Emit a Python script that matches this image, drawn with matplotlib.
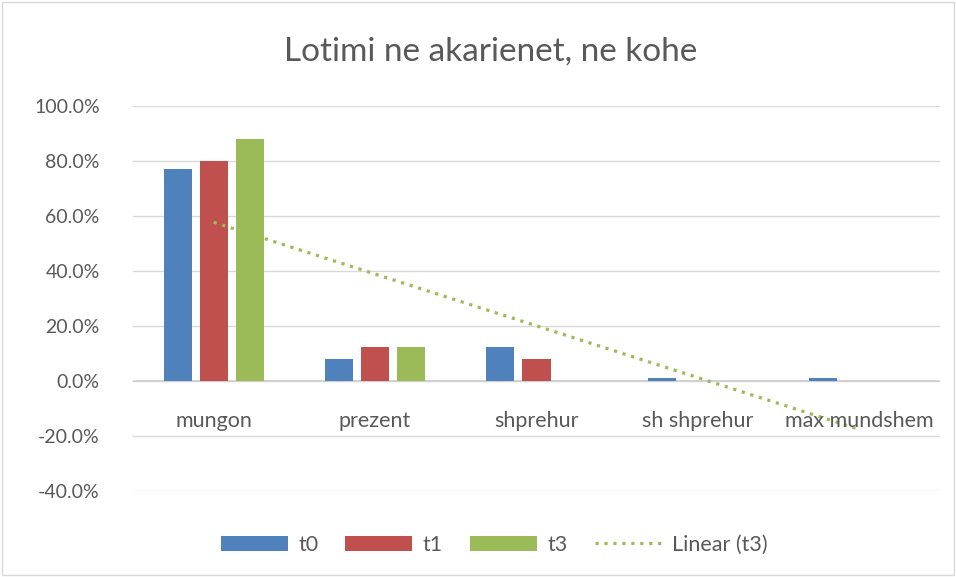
import numpy as np
import matplotlib.pyplot as plt
from matplotlib.patches import Rectangle

plt.rcParams['font.family'] = ['Lato', 'DejaVu Sans']

categories = ['mungon', 'prezent', 'shprehur', 'sh shprehur', 'max mundshem']
t0 = [77.0, 8.0, 12.3, 1.0, 1.0]
t1 = [80.0, 12.3, 8.0, 0.0, 0.0]
t3 = [88.0, 12.3, 0.0, 0.0, 0.0]
yticks = [-40, -20, 0, 20, 40, 60, 80, 100]

c0, c1, c3 = '#4F81BD', '#C0504D', '#9BBB59'
txt = '#595959'

fig = plt.figure(figsize=(9.56, 5.77), dpi=100)
ax = fig.add_axes([133/956, 1 - 491/577, (940 - 133)/956, (491 - 106)/577])

x = np.arange(1, len(categories) + 1)
w = 0.174
step = 0.224
b0 = ax.bar(x - step, t0, w, color=c0, label='t0', zorder=3)
b1 = ax.bar(x, t1, w, color=c1, label='t1', zorder=3)
b3 = ax.bar(x + step, t3, w, color=c3, label='t3', zorder=3)

# linear trend of t3
k, b = np.polyfit(x, t3, 1)
ln, = ax.plot(x, k * x + b, color=c3, linestyle=(0, (1, 1.8)), linewidth=2.3,
              label='Linear (t3)', zorder=4)

ax.set_xlim(0.5, 5.5)
ax.set_ylim(-40, 100)
ax.set_yticks(yticks)
ax.set_yticklabels([f'{v:.1f}%' for v in yticks], fontsize=14, color=txt)
ax.set_xticks([])
ax.tick_params(axis='y', length=0, pad=24)
for v in yticks:
    ax.axhline(v, color='#d9d9d9', linewidth=1.0, zorder=1)
ax.axhline(0, color='#d0d0d0', linewidth=1.3, zorder=2)
for s in ax.spines.values():
    s.set_visible(False)

for xi, cat in zip(x, categories):
    ax.text(xi, -14.5, cat, ha='center', va='center', fontsize=15.5, color=txt, zorder=5)

fig.text(0.513, 1 - 52/577, 'Lotimi ne akarienet, ne kohe', ha='center', va='center',
         fontsize=24, color=txt)

leg = fig.legend([b0, b1, b3, ln], ['t0', 't1', 't3', 'Linear (t3)'], loc='center',
                 bbox_to_anchor=(0.517, 1 - 545/577), ncol=4, frameon=False,
                 fontsize=15.5, handlelength=3.1, handleheight=0.75, columnspacing=1.25,
                 handletextpad=0.5)
for t in leg.get_texts():
    t.set_color(txt)

fig.patches.append(Rectangle((0.002, 0.003), 0.996, 0.994, transform=fig.transFigure,
                             fill=False, edgecolor='#d9d9d9', linewidth=1.0))

fig.savefig('out.png', dpi=100)
